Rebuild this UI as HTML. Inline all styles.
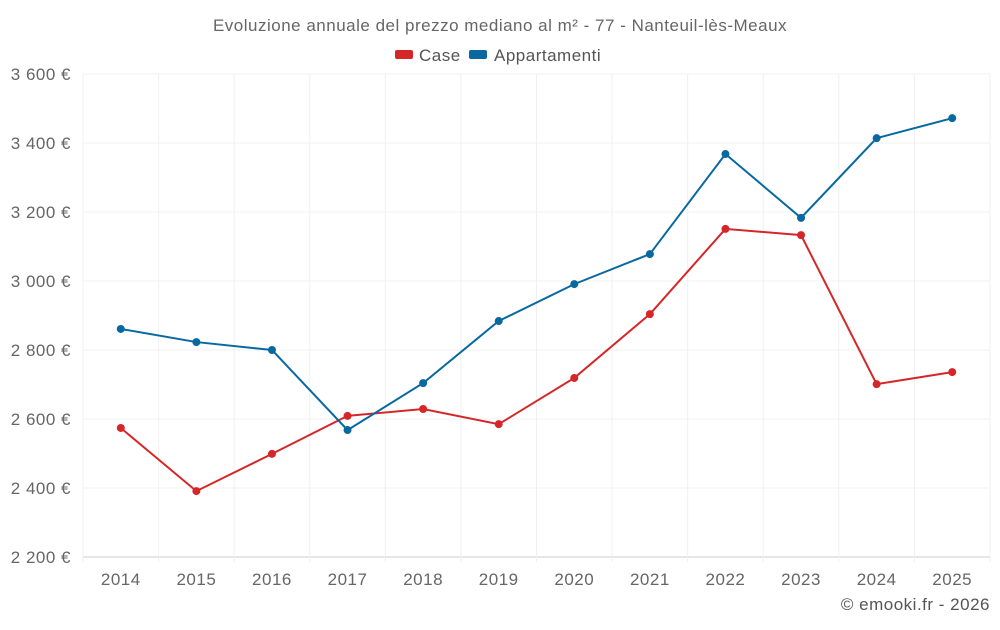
<!DOCTYPE html>
<html><head><meta charset="utf-8"><style>
body{margin:0;background:#fff;font-family:"Liberation Sans",sans-serif;}
svg text{font-family:"Liberation Sans",sans-serif;letter-spacing:0.5px;}
</style></head><body>
<svg id="chart" width="1000" height="625" xmlns="http://www.w3.org/2000/svg">
<text x="500" y="31" text-anchor="middle" font-size="17" fill="#666">Evoluzione annuale del prezzo mediano al m² - 77 - Nanteuil-lès-Meaux</text>
<g>
<g><rect x="395" y="50" width="18" height="9" rx="2" fill="#d62728"/><text x="419" y="61" font-size="17" fill="#555">Case</text></g>
<g><rect x="469" y="50" width="18" height="9" rx="2" fill="#0868a0"/><text x="494" y="61" font-size="17" fill="#555">Appartamenti</text></g>
</g>
<g id="grid"></g><g id="axes"></g><g id="series"></g>
<text x="990" y="610" text-anchor="end" font-size="17" fill="#555">© emooki.fr - 2026</text>
</svg>
<script>
const years=["2014","2015","2016","2017","2018","2019","2020","2021","2022","2023","2024","2025"];
const caseValues=[2574,2391,2499,2609,2629,2585,2719,2904,3151,3133,2701,2736];
const apptValues=[2861,2823,2800,2568,2704,2884,2991,3078,3368,3183,3414,3472];
const yTicks=[2200,2400,2600,2800,3000,3200,3400,3600];
const yTickLabels=["2 200 €","2 400 €","2 600 €","2 800 €","3 000 €","3 200 €","3 400 €","3 600 €"];
const L=83,R=990,T=74,B=557,yMin=2200,yMax=3600;
const NS="http://www.w3.org/2000/svg";
const bw=(R-L)/years.length;
const xs=i=>L+bw*(i+0.5);
const ys=v=>B-(v-yMin)/(yMax-yMin)*(B-T);
function mk(tag,attrs,parent){const e=document.createElementNS(NS,tag);for(const k in attrs)e.setAttribute(k,attrs[k]);document.getElementById(parent).appendChild(e);return e;}
yTicks.forEach((v,i)=>{
 const l=mk('line',{x1:L,x2:R,y1:ys(v),y2:ys(v),stroke:i==0?'#ccc':'#f0f0f0','stroke-width':1},'grid');
 
 
 const t=mk('text',{x:71,y:ys(v)+6,'text-anchor':'end','font-size':17,fill:'#666'},'axes');
 t.textContent=yTickLabels[i];
 
 
});
for(let i=0;i<=years.length;i++){
 const x=L+bw*i;
 const l=mk('line',{x1:x,x2:x,y1:T,y2:B+5,stroke:'#f0f0f0','stroke-width':1},'grid');
 
 
}
years.forEach((y,i)=>{
 const t=mk('text',{x:xs(i),y:B+28,'text-anchor':'middle','font-size':17,fill:'#666'},'axes');
 t.textContent=y;
 
 
});
function series(vals,color,name){
 const p=mk('polyline',{points:vals.map((v,i)=>xs(i)+','+ys(v)).join(' '),fill:'none',stroke:color,'stroke-width':2},'series');
 
 
 vals.forEach((v,i)=>{
  const c=mk('circle',{cx:xs(i),cy:ys(v),r:4,fill:color},'series');
  
  
 });
}
series(caseValues,'#d62728','case');
series(apptValues,'#0868a0','appartamenti');
</script>
</body></html>
